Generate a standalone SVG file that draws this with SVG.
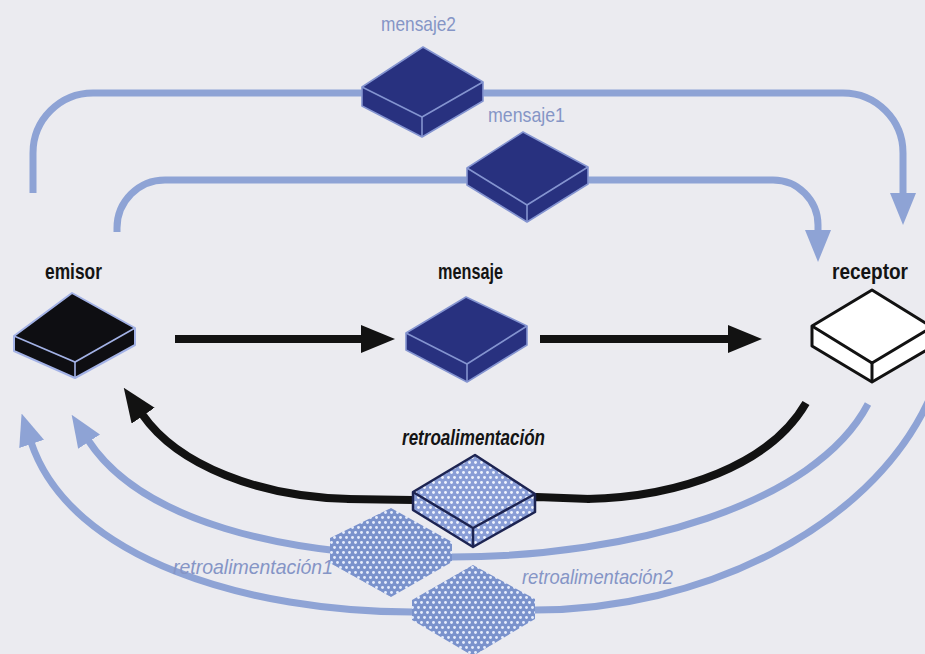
<svg xmlns="http://www.w3.org/2000/svg" width="925" height="654" viewBox="0 0 925 654">
  <defs>
    <style>
      .lbl { font-family: "Liberation Sans", "Liberation Sans Narrow", "DejaVu Sans Condensed", sans-serif; }
      .main { font-size: 22px; font-weight: bold; fill: #141414; }
      .soft { font-size: 21px; fill: #8595c6; }
      .wire-blue { fill: none; stroke: #8ea3d5; stroke-width: 7; }
      .wire-black { fill: none; stroke: #121212; stroke-width: 8; }
      .navy { fill: #28317f; stroke: #8494d0; stroke-width: 1.6; stroke-linejoin: round; }
      .navy-edge { fill: none; stroke: #8494d0; stroke-width: 1.6; stroke-linejoin: round; }
    </style>
    <pattern id="dots" patternUnits="userSpaceOnUse" width="6" height="10">
      <rect width="6" height="10" fill="#7a92cc"/>
      <circle cx="1.5" cy="2.5" r="1.45" fill="#e6edfc"/>
      <circle cx="4.5" cy="7.5" r="1.45" fill="#e6edfc"/>
    </pattern>
    <pattern id="dots-light" patternUnits="userSpaceOnUse" width="6" height="10">
      <rect width="6" height="10" fill="#899dd6"/>
      <circle cx="1.5" cy="2.5" r="1.45" fill="#f0f4fe"/>
      <circle cx="4.5" cy="7.5" r="1.45" fill="#f0f4fe"/>
    </pattern>
    <marker id="head-black" markerUnits="userSpaceOnUse" viewBox="0 0 34 28" markerWidth="34" markerHeight="28" refX="2" refY="14" orient="auto">
      <path d="M0,0 L34,14 L0,28 z" fill="#121212"/>
    </marker>
    <marker id="head-blue" markerUnits="userSpaceOnUse" viewBox="0 0 32 26" markerWidth="32" markerHeight="26" refX="2" refY="13" orient="auto">
      <path d="M0,0 L32,13 L0,26 z" fill="#8ea3d5"/>
    </marker>
  </defs>

  <rect width="925" height="654" fill="#ebebf0"/>

  <g id="connectors">
    <!-- mensaje2: emisor to receptor over the top -->
    <path class="wire-blue" d="M33 193 V153 A60 60 0 0 1 93 93 H843 A60 60 0 0 1 903 153 V195" marker-end="url(#head-blue)"/>
    <!-- mensaje1 -->
    <path class="wire-blue" d="M117 232 V228 A48 48 0 0 1 165 180 H773 A45 45 0 0 1 818 225 V232" marker-end="url(#head-blue)"/>
    <!-- retroalimentacion1 -->
    <path class="wire-blue" d="M868 404 C815 505 630 557 452 557 C280 557 140 520 88 440" marker-end="url(#head-blue)"/>
    <!-- retroalimentacion2 -->
    <path class="wire-blue" d="M928 402 C868 530 700 610 535 610 L412 612 C250 612 70 560 31 442" marker-end="url(#head-blue)"/>
    <!-- emisor to mensaje -->
    <path class="wire-black" d="M175 339 H363" marker-end="url(#head-black)"/>
    <!-- mensaje to receptor -->
    <path class="wire-black" d="M540 339 H730" marker-end="url(#head-black)"/>
    <!-- retroalimentacion: receptor back to emisor -->
    <path class="wire-black" d="M806 403 C770 465 680 497 587 499" stroke-width="7"/>
    <path class="wire-black" d="M590 499 L537 497 L413 500 L347 499" stroke-width="4"/>
    <path class="wire-black" d="M350 499 C260 497 178 466 142 414" stroke-width="7" marker-end="url(#head-black)"/>
  </g>

  <g id="node-mensaje2">
    <polygon class="navy" points="423,47 483,82 483,101 422,137 362,106 362,87"/>
    <polyline class="navy-edge" points="362,87 422,117 483,82"/>
    <line class="navy-edge" x1="422" y1="117" x2="422" y2="137"/>
    <text class="lbl soft" x="381" y="31" textLength="75" lengthAdjust="spacingAndGlyphs">mensaje2</text>
  </g>

  <g id="node-mensaje1">
    <polygon class="navy" points="523,132 588,167 588,184 527,222 467,185 467,168"/>
    <polyline class="navy-edge" points="467,168 527,205 588,167"/>
    <line class="navy-edge" x1="527" y1="205" x2="527" y2="222"/>
    <text class="lbl soft" x="488" y="122" textLength="77" lengthAdjust="spacingAndGlyphs">mensaje1</text>
  </g>

  <g id="node-emisor">
    <polygon points="72,293 135,328 135,345 75,378 14,351 14,336" fill="#0e0e12" stroke="#a3b2e6" stroke-width="2" stroke-linejoin="round"/>
    <polyline points="14,336 75,362 135,328" fill="none" stroke="#a3b2e6" stroke-width="1.6"/>
    <line x1="75" y1="362" x2="75" y2="378" stroke="#a3b2e6" stroke-width="1.6"/>
    <text class="lbl main" x="45" y="279" textLength="57" lengthAdjust="spacingAndGlyphs">emisor</text>
  </g>

  <g id="node-mensaje">
    <polygon class="navy" points="466,297 527,326 527,345 467,382 406,350 406,333" stroke="#2a3270"/>
    <polyline class="navy-edge" points="406,333 467,364 527,326" stroke="#6f80c4"/>
    <line class="navy-edge" x1="467" y1="364" x2="467" y2="382" stroke="#6f80c4"/>
    <text class="lbl main" x="438" y="279" textLength="65" lengthAdjust="spacingAndGlyphs">mensaje</text>
  </g>

  <g id="node-receptor">
    <polygon points="872,290 932,327 932,347 872,382 812,346 812,326" fill="#ffffff" stroke="#121212" stroke-width="3" stroke-linejoin="round"/>
    <polyline points="812,326 872,363 932,327" fill="none" stroke="#121212" stroke-width="3" stroke-linejoin="round"/>
    <line x1="872" y1="363" x2="872" y2="382" stroke="#121212" stroke-width="3"/>
    <text class="lbl main" x="832" y="279" textLength="76" lengthAdjust="spacingAndGlyphs">receptor</text>
  </g>

  <g id="node-retroalimentacion1">
    <polygon points="391,508 452,542 452,562 391,597 330,563 330,538" fill="url(#dots)"/>
    <text class="lbl soft" x="173" y="574" font-size="22" font-style="italic" fill="#8a9acb" textLength="160" lengthAdjust="spacingAndGlyphs">retroalimentación1</text>
  </g>

  <g id="node-retroalimentacion2">
    <polygon points="473,565 535,599 535,619 473,656 412,620 412,600" fill="url(#dots)"/>
    <text class="lbl soft" x="522" y="584" font-size="22" font-style="italic" fill="#8a9acb" textLength="151" lengthAdjust="spacingAndGlyphs">retroalimentación2</text>
  </g>

  <g id="node-retroalimentacion">
    <polygon points="475,455 535,494 535,512 473,547 413,510 413,492" fill="url(#dots-light)" stroke="#1d2452" stroke-width="2.5" stroke-linejoin="round"/>
    <polyline points="413,492 473,528 535,494" fill="none" stroke="#1d2452" stroke-width="2.5" stroke-linejoin="round"/>
    <line x1="473" y1="528" x2="473" y2="547" stroke="#1d2452" stroke-width="2.5"/>
    <text class="lbl main" x="402" y="445" font-style="italic" textLength="143" lengthAdjust="spacingAndGlyphs">retroalimentación</text>
  </g>
</svg>
